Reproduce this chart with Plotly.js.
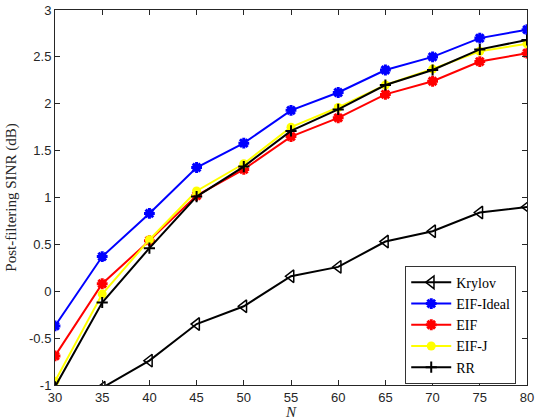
<!DOCTYPE html>
<html>
<head>
<meta charset="utf-8">
<script src="https://cdn.plot.ly/plotly-3.0.1.min.js"></script>
<style>
  html, body { margin: 0; padding: 0; background: #fff; }
  #chart { width: 537px; height: 420px; }
</style>
</head>
<body>
<div id="chart"></div>
<script>
// Number of elements N
const N = [30, 35, 40, 45, 50, 55, 60, 65, 70, 75, 80];

// Post-filtering SINR (dB) for each method
const krylov   = [-1.45, -1.03, -0.74, -0.35, -0.16, 0.16, 0.26, 0.53, 0.64, 0.84, 0.90];
const eifIdeal = [-0.37, 0.37, 0.83, 1.32, 1.58, 1.93, 2.12, 2.36, 2.50, 2.70, 2.79];
const eif      = [-0.69, 0.08, 0.54, 1.02, 1.30, 1.65, 1.85, 2.10, 2.24, 2.45, 2.54];
const eifJ     = [-0.96, -0.03, 0.55, 1.07, 1.36, 1.75, 1.96, 2.20, 2.37, 2.56, 2.64];
const rr       = [-1.02, -0.12, 0.46, 1.01, 1.33, 1.71, 1.94, 2.20, 2.36, 2.58, 2.68];

const xTicks = [30, 35, 40, 45, 50, 55, 60, 65, 70, 75, 80];
const yTicks = [-1, -0.5, 0, 0.5, 1, 1.5, 2, 2.5, 3];
const yTickText = ['-1', '-0.5', '0', '0.5', '1', '1.5', '2', '2.5', '3'];

const serif = "'Liberation Serif', 'Times New Roman', serif";
const sans = "'Liberation Sans', Arial, sans-serif";

const traces = [
  {
    x: N, y: krylov, name: 'Krylov', mode: 'lines+markers',
    line: { color: '#000', width: 2 },
    marker: { symbol: 'triangle-left-open', size: 11, color: '#000', line: { color: '#000', width: 1.5 } }
  },
  {
    x: N, y: eifIdeal, name: 'EIF-Ideal', mode: 'lines+markers',
    line: { color: '#0000ff', width: 2 },
    marker: { symbol: 'asterisk', size: 9, color: '#0000ff', line: { color: '#0000ff', width: 3 } }
  },
  {
    x: N, y: eif, name: 'EIF', mode: 'lines+markers',
    line: { color: '#ff0000', width: 2 },
    marker: { symbol: 'asterisk', size: 9, color: '#ff0000', line: { color: '#ff0000', width: 3 } }
  },
  {
    x: N, y: eifJ, name: 'EIF-J', mode: 'lines+markers',
    line: { color: '#ffff00', width: 2 },
    marker: { symbol: 'circle', size: 9, color: '#ffff00' }
  },
  {
    x: N, y: rr, name: 'RR', mode: 'lines+markers',
    line: { color: '#000', width: 2 },
    marker: { symbol: 'cross-thin', size: 8, color: '#000', line: { color: '#000', width: 2 } }
  }
];

const axisCommon = {
  showline: true, linecolor: '#262626', linewidth: 1,
  mirror: 'ticks', ticks: 'inside', ticklen: 5, tickcolor: '#262626',
  showgrid: false, zeroline: false,
  tickfont: { family: sans, size: 13, color: '#262626' }
};

const layout = {
  width: 537, height: 420,
  margin: { l: 55, r: 10, t: 10, b: 35 },
  paper_bgcolor: '#fff', plot_bgcolor: '#fff',
  showlegend: true,
  xaxis: Object.assign({}, axisCommon, {
    range: [30, 80], tickvals: xTicks, ticktext: xTicks.map(String),
    title: { text: '<i>N</i>', standoff: 6,
             font: { family: serif, size: 15, color: '#262626' } }
  }),
  yaxis: Object.assign({}, axisCommon, {
    range: [-1, 3], tickvals: yTicks, ticktext: yTickText,
    title: { text: 'Post-filtering SINR (dB)', standoff: 8,
             font: { family: serif, size: 15, color: '#262626' } }
  }),
  legend: {
    x: 0.742, y: 0.318, xanchor: 'left', yanchor: 'top',
    bgcolor: '#fff', bordercolor: '#333', borderwidth: 1,
    font: { family: serif, size: 14, color: '#000' },
    itemwidth: 40, tracegroupgap: 0
  }
};

Plotly.newPlot('chart', traces, layout, { displayModeBar: false, staticPlot: true });
</script>
</body>
</html>
